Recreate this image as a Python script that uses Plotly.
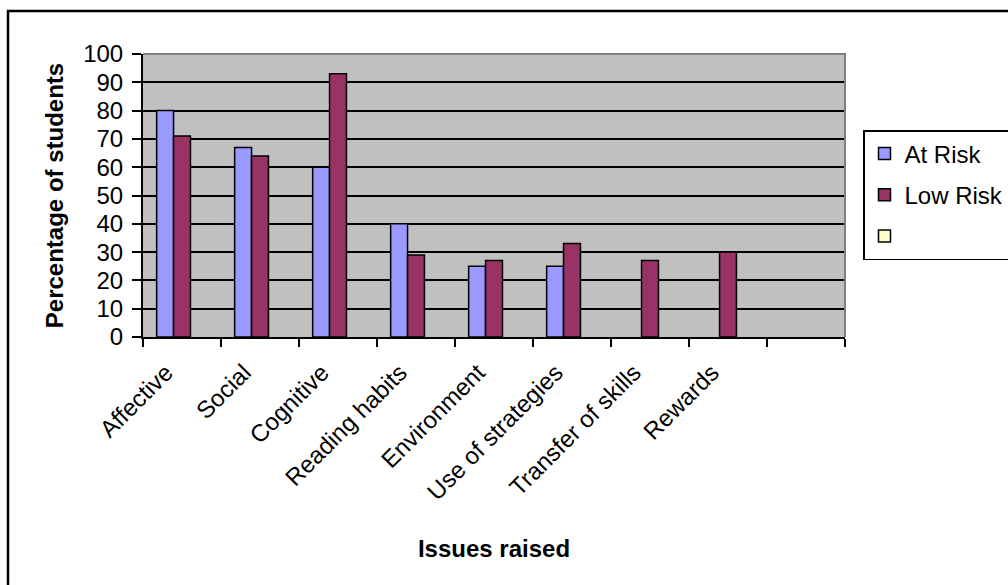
import plotly.graph_objects as go

# Issues raised by students, percentage per group
categories = ["Affective", "Social", "Cognitive", "Reading habits", "Environment",
              "Use of strategies", "Transfer of skills", "Rewards", " "]
at_risk = [80, 67, 60, 40, 25, 25, None, None, None]
low_risk = [71, 64, 93, 29, 27, 33, 27, 30, None]
third_series = [None] * 9

FONT = "Arial, 'Liberation Sans', sans-serif"

# plot area in pixels
W, H = 1008, 585
L, R, T, B = 143, 845, 54, 337
pw, ph = R - L, B - T


def px_x(x):
    return (x - L) / pw


def px_y(y):
    return (B - y) / ph


fig = go.Figure()
fig.add_trace(go.Bar(x=categories, y=at_risk, name="At Risk", legendgroup="a",
                     marker=dict(color="#9999FF", line=dict(color="black", width=1.5))))
fig.add_trace(go.Bar(x=categories, y=low_risk, name="Low Risk", legendgroup="b",
                     marker=dict(color="#993366", line=dict(color="black", width=1.5))))
fig.add_trace(go.Bar(x=categories, y=third_series, name="", legendgroup="c",
                     marker=dict(color="#FFFFCC", line=dict(color="black", width=1.5))))

fig.update_layout(
    width=W, height=H,
    margin=dict(l=L, r=W - R, t=T, b=H - B, pad=0, autoexpand=False),
    paper_bgcolor="white",
    plot_bgcolor="#C0C0C0",
    barmode="group",
    bargap=0.35,
    bargroupgap=0,
    font=dict(family=FONT, size=24, color="black"),
    legend=dict(
        xref="container", yref="container",
        x=863 / W, y=1 - 130 / H, xanchor="left", yanchor="top",
        bordercolor="black", borderwidth=1.5, bgcolor="white",
        font=dict(size=24), tracegroupgap=7, traceorder="grouped",
        itemwidth=30, entrywidth=135,
    ),
    xaxis=dict(
        type="category", tickangle=-45, tickson="boundaries",
        ticks="outside", ticklen=8, tickwidth=1.5, tickcolor="black",
        showline=True, linecolor="black", linewidth=2,
        showgrid=False, zeroline=False, automargin=False,
        tickfont=dict(size=24),
        ticklabelstandoff=10, ticklabelshift=-16,
        title=dict(text="<b>Issues raised</b>", font=dict(size=24), standoff=36),
        range=[-0.5, 8.5],
    ),
    yaxis=dict(
        range=[0, 100], dtick=10, tick0=0,
        ticks="outside", ticklen=9, tickwidth=1.5, tickcolor="black",
        showline=True, linecolor="black", linewidth=2,
        showgrid=True, gridcolor="black", gridwidth=1.5,
        zeroline=False, automargin=False,
        tickfont=dict(size=24),
        ticklabelstandoff=4,
        title=dict(text="<b>Percentage of students</b>", font=dict(size=24), standoff=13),
    ),
    shapes=[
        # grey frame on the top and right edges of the plot area
        dict(type="path", xref="paper", yref="paper", path="M 0,1 L 1,1 L 1,0",
             line=dict(color="#808080", width=2), layer="above"),
        # outer chart border
        dict(type="rect", xref="paper", yref="paper",
             x0=px_x(8), y0=px_y(11), x1=px_x(W + 10), y1=px_y(H + 10),
             line=dict(color="black", width=2.5), layer="above"),
    ],
)

fig.write_html("out.html")
